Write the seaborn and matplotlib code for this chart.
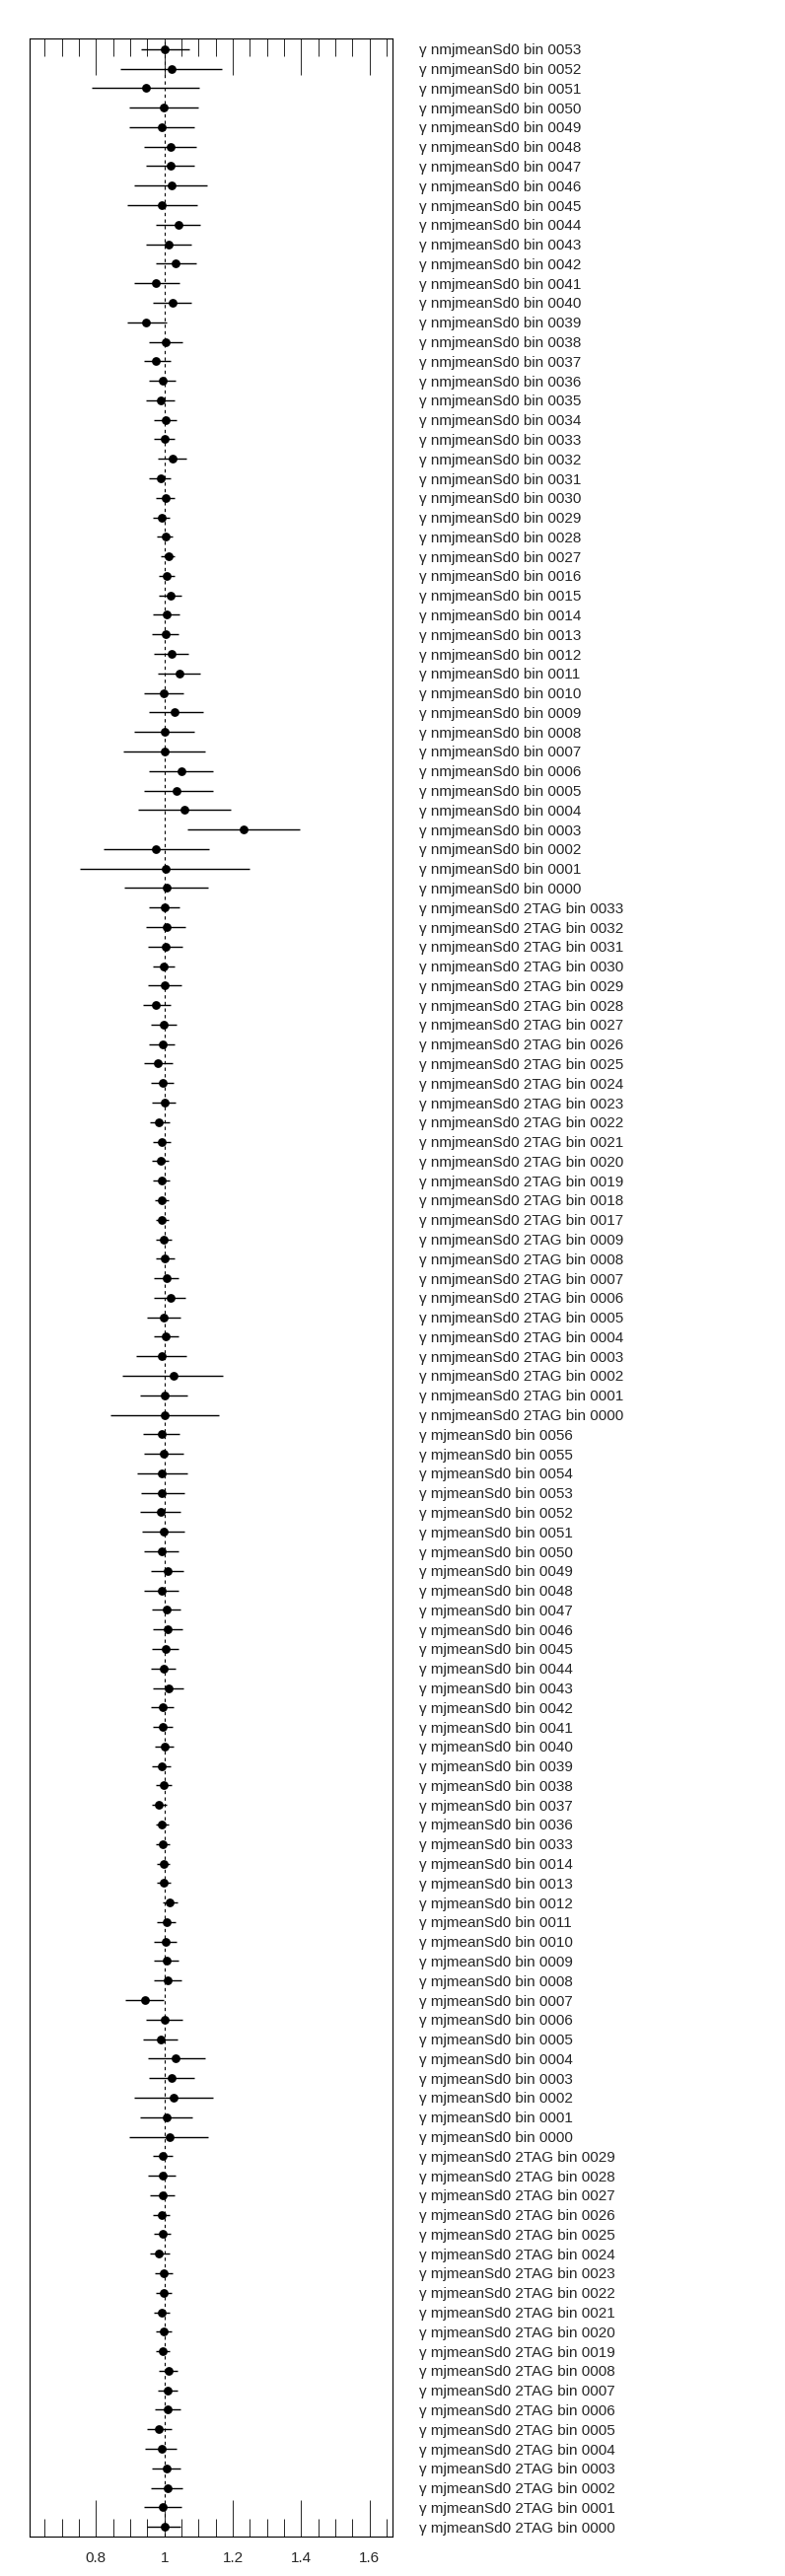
import matplotlib
matplotlib.use('Agg')
import matplotlib.pyplot as plt
from matplotlib.ticker import MultipleLocator, FuncFormatter
import numpy as np
import pandas as pd
import seaborn as sns

# nuisance parameter groups, top to bottom
nmj_bins = ['0053', '0052', '0051', '0050', '0049', '0048', '0047', '0046', '0045',
            '0044', '0043', '0042', '0041', '0040', '0039', '0038', '0037', '0036',
            '0035', '0034', '0033', '0032', '0031', '0030', '0029', '0028', '0027',
            '0016', '0015', '0014', '0013', '0012', '0011', '0010', '0009', '0008',
            '0007', '0006', '0005', '0004', '0003', '0002', '0001', '0000']
nmj_val = [1.000, 1.021, 0.946, 0.997, 0.991, 1.018, 1.018, 1.021, 0.993,
           1.040, 1.012, 1.034, 0.976, 1.024, 0.947, 1.003, 0.976, 0.994,
           0.988, 1.003, 1.000, 1.024, 0.988, 1.003, 0.991, 1.003, 1.012,
           1.006, 1.018, 1.006, 1.003, 1.021, 1.043, 0.997, 1.031, 1.000,
           1.000, 1.050, 1.037, 1.059, 1.232, 0.976, 1.003, 1.006]
nmj_lo = [0.931, 0.871, 0.787, 0.896, 0.897, 0.941, 0.947, 0.912, 0.891,
          0.976, 0.947, 0.976, 0.912, 0.966, 0.891, 0.954, 0.940, 0.954,
          0.947, 0.969, 0.969, 0.981, 0.954, 0.976, 0.966, 0.979, 0.990,
          0.984, 0.984, 0.966, 0.963, 0.969, 0.981, 0.941, 0.954, 0.912,
          0.881, 0.954, 0.940, 0.922, 1.068, 0.822, 0.753, 0.882]
nmj_hi = [1.072, 1.168, 1.103, 1.099, 1.087, 1.094, 1.087, 1.125, 1.097,
          1.106, 1.079, 1.094, 1.044, 1.079, 1.006, 1.053, 1.019, 1.034,
          1.031, 1.037, 1.031, 1.065, 1.019, 1.031, 1.016, 1.024, 1.029,
          1.029, 1.050, 1.044, 1.041, 1.071, 1.106, 1.056, 1.112, 1.088,
          1.118, 1.143, 1.141, 1.193, 1.396, 1.132, 1.250, 1.129]

nmj2_bins = ['0033', '0032', '0031', '0030', '0029', '0028', '0027', '0026', '0025',
             '0024', '0023', '0022', '0021', '0020', '0019', '0018', '0017', '0009',
             '0008', '0007', '0006', '0005', '0004', '0003', '0002', '0001', '0000']
nmj2_val = [1.000, 1.006, 1.003, 0.997, 1.000, 0.976, 0.997, 0.994, 0.982,
            0.994, 1.000, 0.985, 0.991, 0.988, 0.991, 0.991, 0.991, 0.997,
            1.000, 1.006, 1.018, 0.997, 1.003, 0.991, 1.026, 1.000, 1.000]
nmj2_lo = [0.954, 0.947, 0.951, 0.966, 0.951, 0.937, 0.960, 0.954, 0.941,
           0.960, 0.963, 0.957, 0.966, 0.963, 0.966, 0.971, 0.974, 0.974,
           0.974, 0.969, 0.969, 0.950, 0.969, 0.918, 0.876, 0.929, 0.843]
nmj2_hi = [1.043, 1.062, 1.053, 1.029, 1.049, 1.019, 1.037, 1.029, 1.024,
           1.028, 1.034, 1.016, 1.019, 1.013, 1.015, 1.013, 1.013, 1.022,
           1.031, 1.040, 1.062, 1.046, 1.040, 1.065, 1.172, 1.066, 1.160]

mj_bins = ['0056', '0055', '0054', '0053', '0052', '0051', '0050', '0049', '0048',
           '0047', '0046', '0045', '0044', '0043', '0042', '0041', '0040', '0039',
           '0038', '0037', '0036', '0033', '0014', '0013', '0012', '0011', '0010',
           '0009', '0008', '0007', '0006', '0005', '0004', '0003', '0002', '0001',
           '0000']
mj_val = [0.991, 0.997, 0.993, 0.993, 0.988, 0.997, 0.991, 1.009, 0.991,
          1.006, 1.009, 1.003, 0.997, 1.012, 0.994, 0.994, 1.000, 0.991,
          0.997, 0.985, 0.991, 0.994, 0.997, 0.997, 1.015, 1.006, 1.003,
          1.006, 1.009, 0.944, 1.000, 0.988, 1.034, 1.021, 1.026, 1.006,
          1.015]
mj_lo = [0.938, 0.941, 0.921, 0.932, 0.929, 0.935, 0.941, 0.960, 0.941,
         0.963, 0.966, 0.963, 0.960, 0.966, 0.960, 0.966, 0.972, 0.963,
         0.975, 0.963, 0.974, 0.974, 0.978, 0.978, 0.994, 0.978, 0.969,
         0.969, 0.969, 0.885, 0.947, 0.938, 0.951, 0.954, 0.912, 0.929,
         0.897]
mj_hi = [1.044, 1.056, 1.066, 1.059, 1.046, 1.059, 1.041, 1.056, 1.041,
         1.046, 1.053, 1.040, 1.034, 1.056, 1.028, 1.025, 1.028, 1.019,
         1.021, 1.006, 1.012, 1.015, 1.015, 1.018, 1.038, 1.032, 1.037,
         1.041, 1.049, 0.997, 1.053, 1.038, 1.118, 1.087, 1.143, 1.082,
         1.129]

mj2_bins = ['0029', '0028', '0027', '0026', '0025', '0024', '0023', '0022', '0021',
            '0020', '0019', '0008', '0007', '0006', '0005', '0004', '0003', '0002',
            '0001', '0000']
mj2_val = [0.994, 0.994, 0.994, 0.991, 0.994, 0.985, 0.997, 0.997, 0.993,
           0.997, 0.994, 1.012, 1.009, 1.009, 0.985, 0.991, 1.006, 1.009,
           0.994, 1.000]
mj2_lo = [0.966, 0.951, 0.957, 0.966, 0.969, 0.957, 0.972, 0.976, 0.969,
          0.975, 0.974, 0.984, 0.981, 0.972, 0.950, 0.944, 0.963, 0.960,
          0.941, 0.950]
mj2_hi = [1.025, 1.034, 1.031, 1.015, 1.019, 1.015, 1.025, 1.021, 1.015,
          1.021, 1.015, 1.038, 1.038, 1.046, 1.022, 1.037, 1.047, 1.053,
          1.049, 1.046]

groups = [
    ('nmjmeanSd0', nmj_bins, nmj_val, nmj_lo, nmj_hi),
    ('nmjmeanSd0 2TAG', nmj2_bins, nmj2_val, nmj2_lo, nmj2_hi),
    ('mjmeanSd0', mj_bins, mj_val, mj_lo, mj_hi),
    ('mjmeanSd0 2TAG', mj2_bins, mj2_val, mj2_lo, mj2_hi),
]

rows = []
for name, bins, val, lo, hi in groups:
    for b, v, l, h in zip(bins, val, lo, hi):
        rows.append({'label': '\u03b3 %s bin %s' % (name, b), 'value': v, 'lo': l, 'hi': h})
df = pd.DataFrame(rows)
df['pos'] = np.arange(len(df))

sns.set_style('ticks')
plt.rcParams['font.family'] = ['Liberation Sans', 'DejaVu Sans']

fig = plt.figure(figsize=(7.96, 26.12), dpi=100)
ax = fig.add_axes([0.0373, 0.0153, 0.4631, 0.9698])

ax.axvline(1.0, color='black', lw=0.8, ls=(0, (3, 3)), zorder=1)
ax.hlines(df['pos'], df['lo'], df['hi'], color='black', lw=1.0, zorder=2)
sns.scatterplot(data=df, x='value', y='pos', color='black', s=40,
                edgecolor='black', linewidth=0, ax=ax, zorder=3)

ax.set_xlim(0.605, 1.668)
ax.set_ylim(len(df) - 0.5, -0.55)
ax.set_xlabel('')
ax.set_ylabel('')

ax.xaxis.set_major_locator(MultipleLocator(0.2))
ax.xaxis.set_minor_locator(MultipleLocator(0.05))
ax.xaxis.set_major_formatter(FuncFormatter(lambda v, p: '%g' % round(v, 2)))
ax.tick_params(axis='x', which='both', direction='in', top=True, bottom=True,
               labeltop=False, labelbottom=True, width=0.7, labelsize=11, pad=11)
ax.tick_params(axis='x', which='major', length=26.5)
ax.tick_params(axis='x', which='minor', length=13)

ax.yaxis.tick_right()
ax.set_yticks(df['pos'])
ax.set_yticklabels(df['label'])
ax.tick_params(axis='y', which='both', length=0, labelsize=11, pad=19, left=False, right=False)
ax.yaxis.set_minor_locator(plt.NullLocator())

for s in ax.spines.values():
    s.set_visible(True)
    s.set_linewidth(0.8)
    s.set_color('black')

fig.savefig('out.png', dpi=100)
plt.close(fig)
